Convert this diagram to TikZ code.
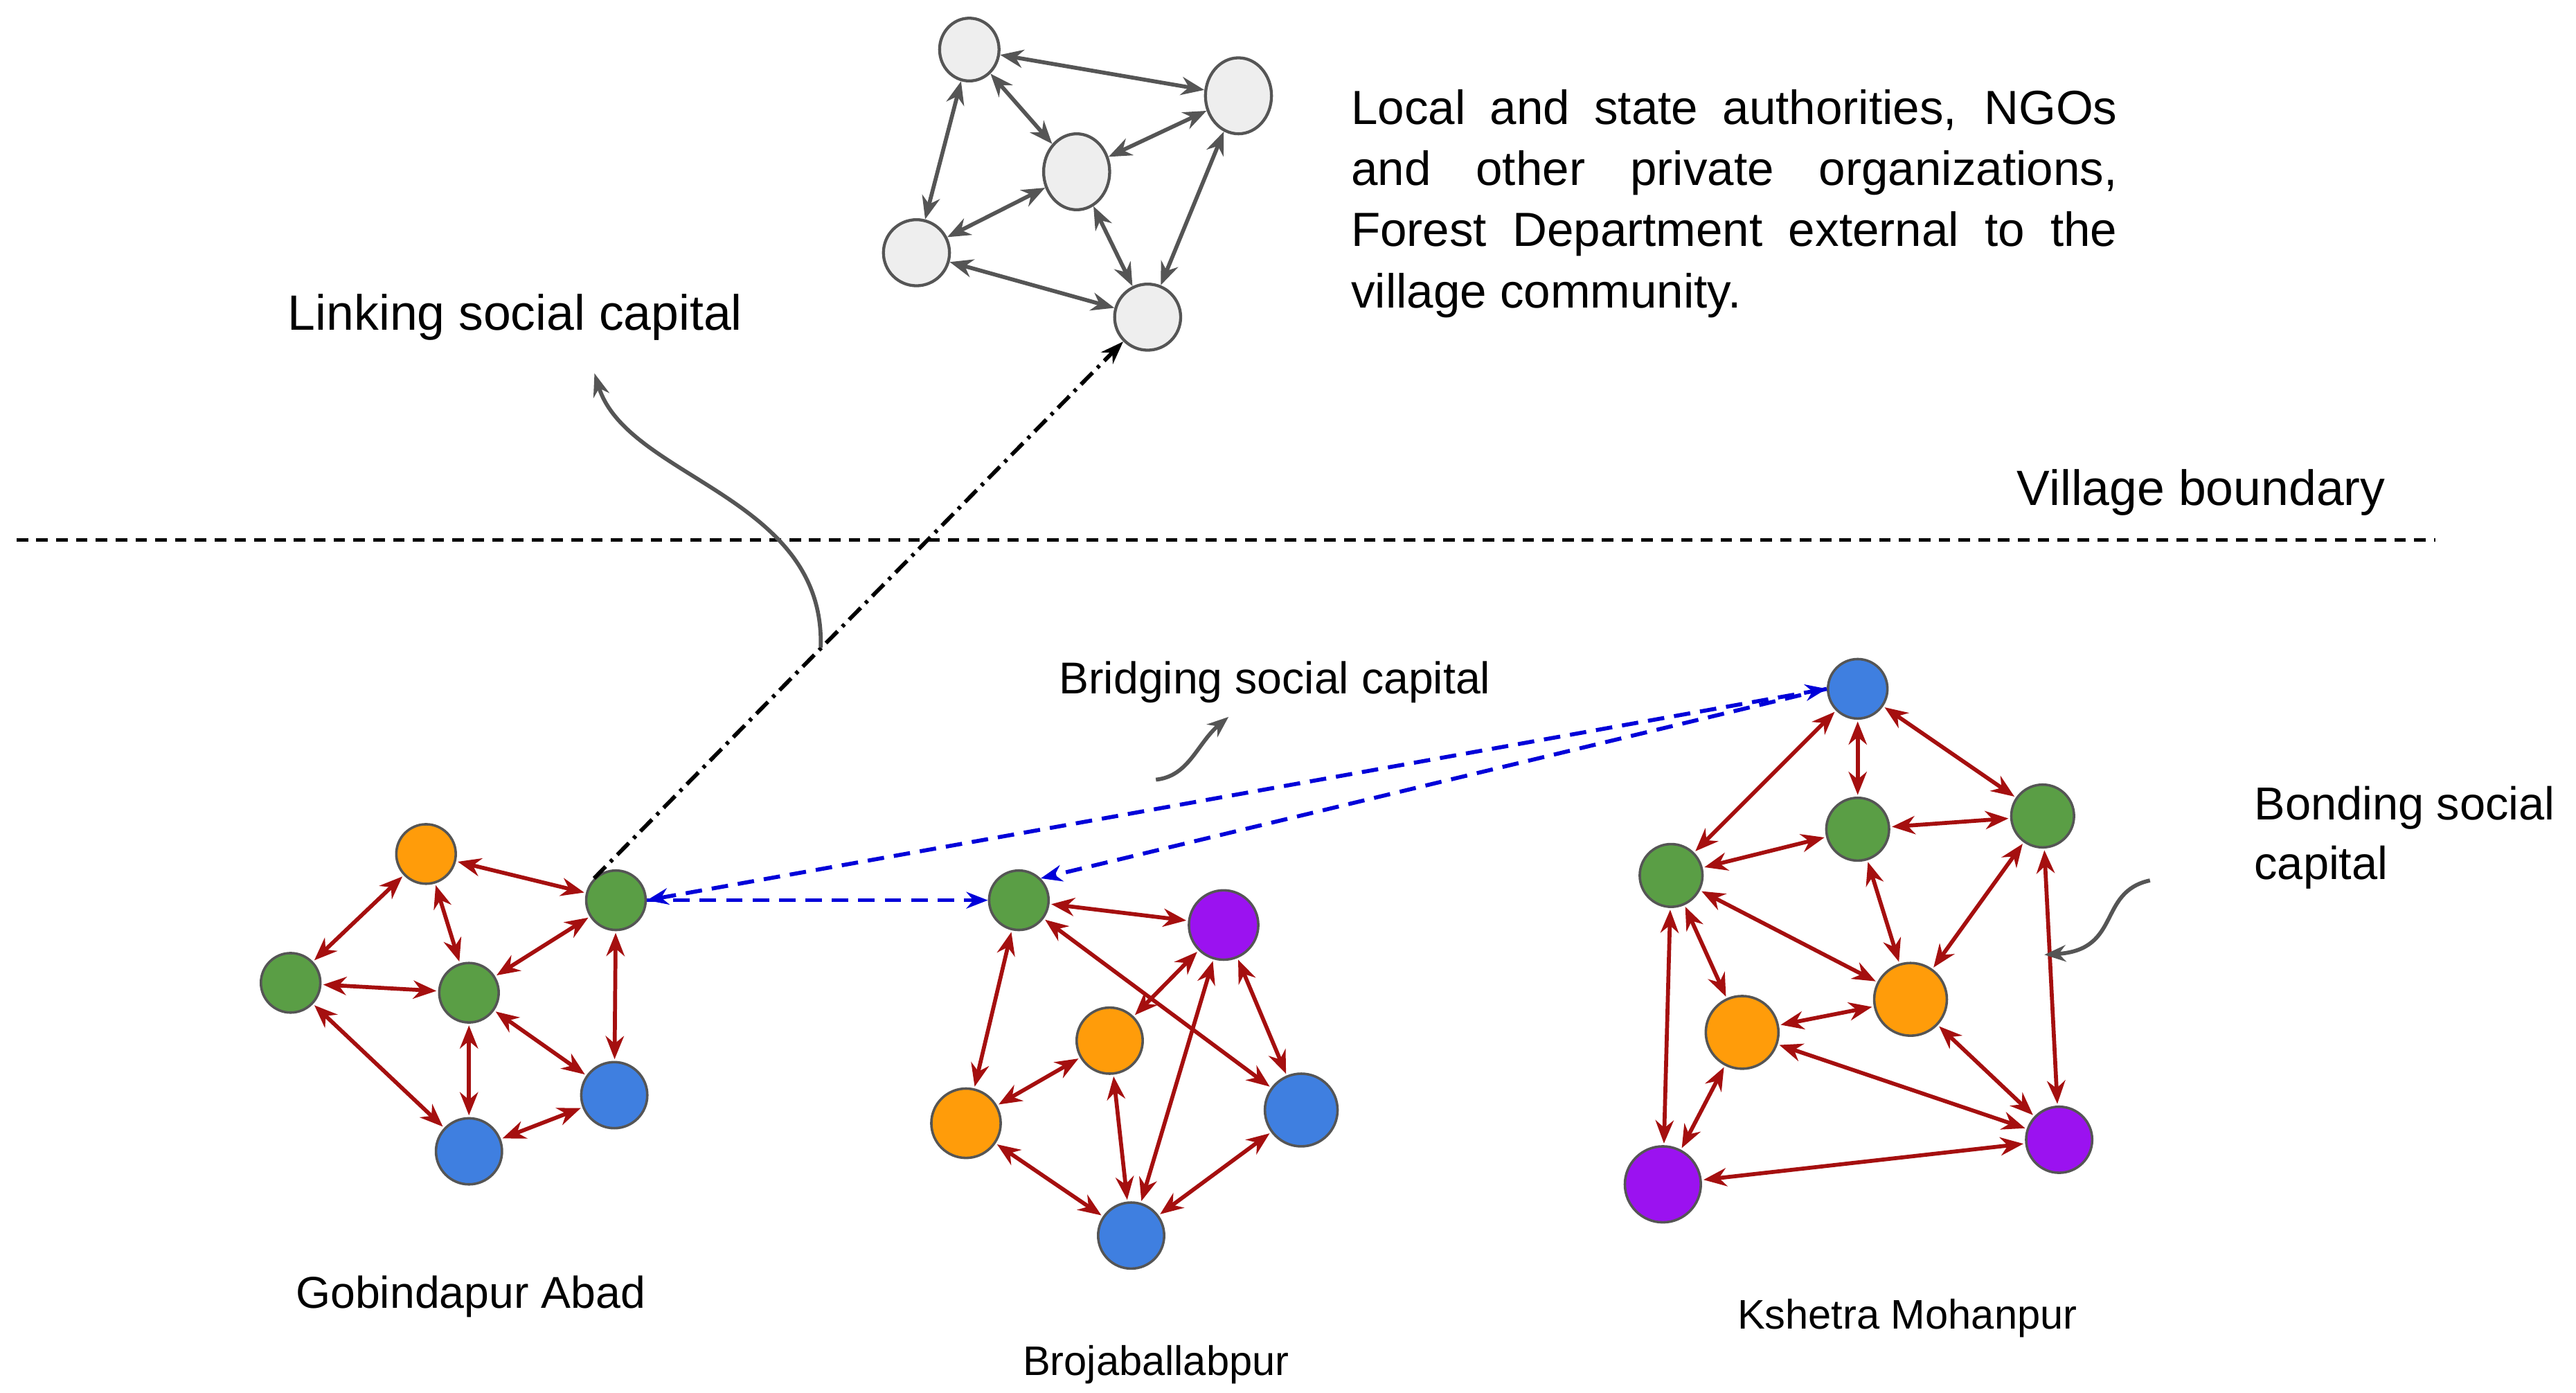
\documentclass[tikz,border=0pt]{standalone}
\usepackage{fontspec}
\setmainfont{Liberation Sans}
\usetikzlibrary{arrows.meta,shapes.geometric}
\definecolor{cgreen}{HTML}{5A9E45}
\definecolor{corange}{HTML}{FF9C0A}
\definecolor{cblue}{HTML}{3F7FE0}
\definecolor{cpurple}{HTML}{9B12F0}
\definecolor{cgray}{HTML}{EEEEEE}
\definecolor{cred}{HTML}{A50F0F}
\definecolor{cedge}{HTML}{555555}
\begin{document}
\begin{tikzpicture}[x=1pt,y=-1pt,
  v/.style={circle,draw=cedge,line width=1.5pt,minimum size=36pt,inner sep=0pt},
  gv/.style={ellipse,draw=cedge,line width=1.8pt,fill=cgray,inner sep=0pt,minimum width=36pt,minimum height=38pt},
  r/.style={draw=cred,line width=2.4pt,{Stealth[length=14pt,width=11pt]}-{Stealth[length=14pt,width=11pt]},shorten <=1pt,shorten >=1pt},
  g/.style={draw=cedge,line width=2.4pt,{Stealth[length=14pt,width=11pt]}-{Stealth[length=14pt,width=11pt]}},
  bl/.style={draw=blue!85!black,line width=2.4pt,dash pattern=on 10pt off 6pt,-{Stealth[length=13pt,width=10pt]}},
  lab/.style={font=\fontsize{30}{36}\selectfont,inner sep=0pt}]
\useasboundingbox (0,0) rectangle (1560,843);
% top network
\node[gv] (A) at (587,30) {};
\node[gv,minimum width=40pt,minimum height=46pt] (B) at (750,58) {};
\node[gv,minimum width=40pt,minimum height=46pt] (C) at (652,104) {};
\node[gv,minimum width=40pt,minimum height=40pt] (D) at (555,153) {};
\node[gv,minimum width=40pt,minimum height=40pt] (E) at (695,192) {};
\foreach \a/\b in {A/B,A/D,A/C,C/B,C/D,C/E,D/E,B/E} \draw[g] (\a) -- (\b);
\node[font=\fontsize{29}{37}\selectfont,text width=464pt,align=justify,anchor=north west,inner sep=0pt] (T) at (818,54)
 {\hyphenpenalty=10000 Local and state authorities, NGOs\linebreak and other private organizations,\linebreak Forest Department external to the\linebreak village community.};
% boundary
\coordinate (L1) at (10,327); \coordinate (L2) at (1475,327);
\draw[line width=2pt,dash pattern=on 7pt off 5pt] (L1) -- (L2);
\node[lab] (VB) at (1333,298) {Village boundary};
\node[lab] (LK) at (312,192) {Linking social capital};
% Gobindapur
\node[v,fill=corange] (O1) at (258,517) {};
\node[v,fill=cgreen] (G1) at (373,545) {};
\node[v,fill=cgreen] (G2) at (176,595) {};
\node[v,fill=cgreen] (G3) at (284,601) {};
\node[v,fill=cblue,minimum size=40pt] (B1) at (372,663) {};
\node[v,fill=cblue,minimum size=40pt] (B2) at (284,697) {};
\foreach \a/\b in {O1/G1,O1/G2,O1/G3,G1/G3,G1/B1,G2/G3,G2/B2,G3/B1,G3/B2,B2/B1} \draw[r] (\a) -- (\b);
% Brojaballabpur
\node[v,fill=cgreen] (Gr) at (617,545) {};
\node[v,fill=cpurple,minimum size=42pt] (P) at (741,560) {};
\node[v,fill=corange,minimum size=40pt] (Or1) at (672,630) {};
\node[v,fill=corange,minimum size=42pt] (Or2) at (585,680) {};
\node[v,fill=cblue,minimum size=44pt] (Bl1) at (788,672) {};
\node[v,fill=cblue,minimum size=40pt] (Bl2) at (685,748) {};
\foreach \a/\b in {Gr/P,Gr/Or2,Gr/Bl1,Or1/P,Or1/Or2,Or1/Bl2,P/Bl1,P/Bl2,Or2/Bl2,Bl1/Bl2} \draw[r] (\a) -- (\b);
% Kshetra
\node[v,fill=cblue] (Bt) at (1125,417) {};
\node[v,fill=cgreen,minimum size=38pt] (Gm) at (1125,502) {};
\node[v,fill=cgreen,minimum size=38pt] (Gr2) at (1237,494) {};
\node[v,fill=cgreen,minimum size=38pt] (Gl) at (1012,530) {};
\node[v,fill=corange,minimum size=44pt] (Oc) at (1157,605) {};
\node[v,fill=corange,minimum size=44pt] (Ol) at (1055,625) {};
\node[v,fill=cpurple,minimum size=46pt] (Pl) at (1007,717) {};
\node[v,fill=cpurple,minimum size=40pt] (Pr) at (1247,690) {};
\foreach \a/\b in {Bt/Gl,Bt/Gm,Bt/Gr2,Gm/Gl,Gm/Gr2,Gm/Oc,Gl/Oc,Gl/Ol,Gl/Pl,Gr2/Oc,Gr2/Pr,Ol/Oc,Ol/Pr,Oc/Pr,Ol/Pl,Pl/Pr} \draw[r] (\a) -- (\b);
% bridging
\draw[bl,{Stealth[length=13pt,width=10pt]}-{Stealth[length=13pt,width=10pt]}] (G1.east) -- (Bt.west);
\draw[bl] (Bt.west) -- (Gr.north east);
\draw[bl] (G1.east) -- (Gr.west);
% linking
\draw[line width=2.4pt,dash pattern=on 10pt off 4pt on 2pt off 4pt,-{Stealth[length=14pt,width=10pt]}] (G1.north west) -- (E.south west);
\coordinate (lk1) at (497,392);
\coordinate (lk2) at (360,226);
\draw[cedge,line width=2.4pt,-{Stealth[length=14pt,width=10pt]}] (lk1) .. controls (500,300) and (380,290) .. (lk2);
\node[font=\fontsize{27}{32}\selectfont,inner sep=0pt] (BR) at (772,413) {Bridging social capital};
\coordinate (br1) at (700,472);
\coordinate (br2) at (744,434);
\draw[cedge,line width=2.4pt,-{Stealth[length=13pt,width=10pt]}] (br1) .. controls (720,470) and (725,450) .. (br2);
\node[align=left,anchor=west,font=\fontsize{28}{36}\selectfont,inner sep=0pt] (BD) at (1365,507) {Bonding social\\capital};
\coordinate (bd1) at (1302,533);
\coordinate (bd2) at (1238,578);
\draw[cedge,line width=2.4pt,-{Stealth[length=13pt,width=10pt]}] (bd1) .. controls (1270,540) and (1285,575) .. (bd2);
% names
\node[font=\fontsize{27}{32}\selectfont,inner sep=0pt] (N1) at (285,785) {Gobindapur Abad};
\node[font=\fontsize{25}{30}\selectfont,inner sep=0pt] (N2) at (700,826) {Brojaballabpur};
\node[font=\fontsize{25}{30}\selectfont,inner sep=0pt] (N3) at (1155,798) {Kshetra Mohanpur};
\end{tikzpicture}
\end{document}
